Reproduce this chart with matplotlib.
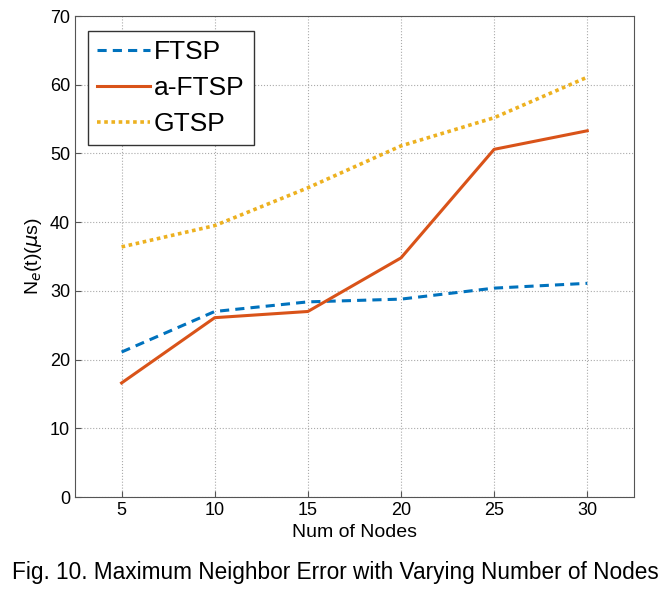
import matplotlib.pyplot as plt

# Datos
nodos = [5, 10, 15, 20, 25, 30]
ftsp = [21.1, 27.0, 28.4, 28.8, 30.4, 31.1]
a_ftsp = [16.6, 26.1, 27.0, 34.8, 50.6, 53.3]
gtsp = [36.4, 39.5, 45.0, 51.1, 55.2, 61.1]

plt.rcParams['font.family'] = ['Liberation Sans', 'DejaVu Sans']

fig = plt.figure(figsize=(6.7, 6.05), dpi=100)
ax = fig.add_axes([0.112, 0.1785, 0.834, 0.795])

ax.plot(nodos, ftsp, linestyle=(0, (3, 2)), color='#0072BD', linewidth=2.2, label='FTSP')
ax.plot(nodos, a_ftsp, linestyle='-', color='#D95319', linewidth=2.2, label='a-FTSP')
ax.plot(nodos, gtsp, linestyle=(0, (1, 1)), color='#EDB120', linewidth=2.6, label='GTSP')

ax.set_xlim(2.5, 32.5)
ax.set_ylim(0, 70)
ax.set_xticks(nodos)
ax.set_yticks(range(0, 71, 10))
ax.tick_params(labelsize=13, direction='in', length=4, color='#555555')

ax.grid(True, linestyle=':', color='#aaaaaa', linewidth=0.8)
for s in ax.spines.values():
    s.set_color('#555555')

ax.set_xlabel('Num of Nodes', fontsize=14)
ax.set_ylabel(r'N$_e$(t)($\mu$s)', fontsize=14)

leg = ax.legend(loc='upper left', fontsize=19, handlelength=2.0, handletextpad=0.15,
                borderpad=0.35, labelspacing=0.45, fancybox=False, framealpha=1,
                edgecolor='#333333', bbox_to_anchor=(0.023, 0.969), borderaxespad=0)
leg.get_frame().set_linewidth(1.0)

fig.text(0.5, 0.043, 'Fig. 10. Maximum Neighbor Error with Varying Number of Nodes',
         ha='center', fontsize=16.3)

fig.savefig('out.png', dpi=100)
